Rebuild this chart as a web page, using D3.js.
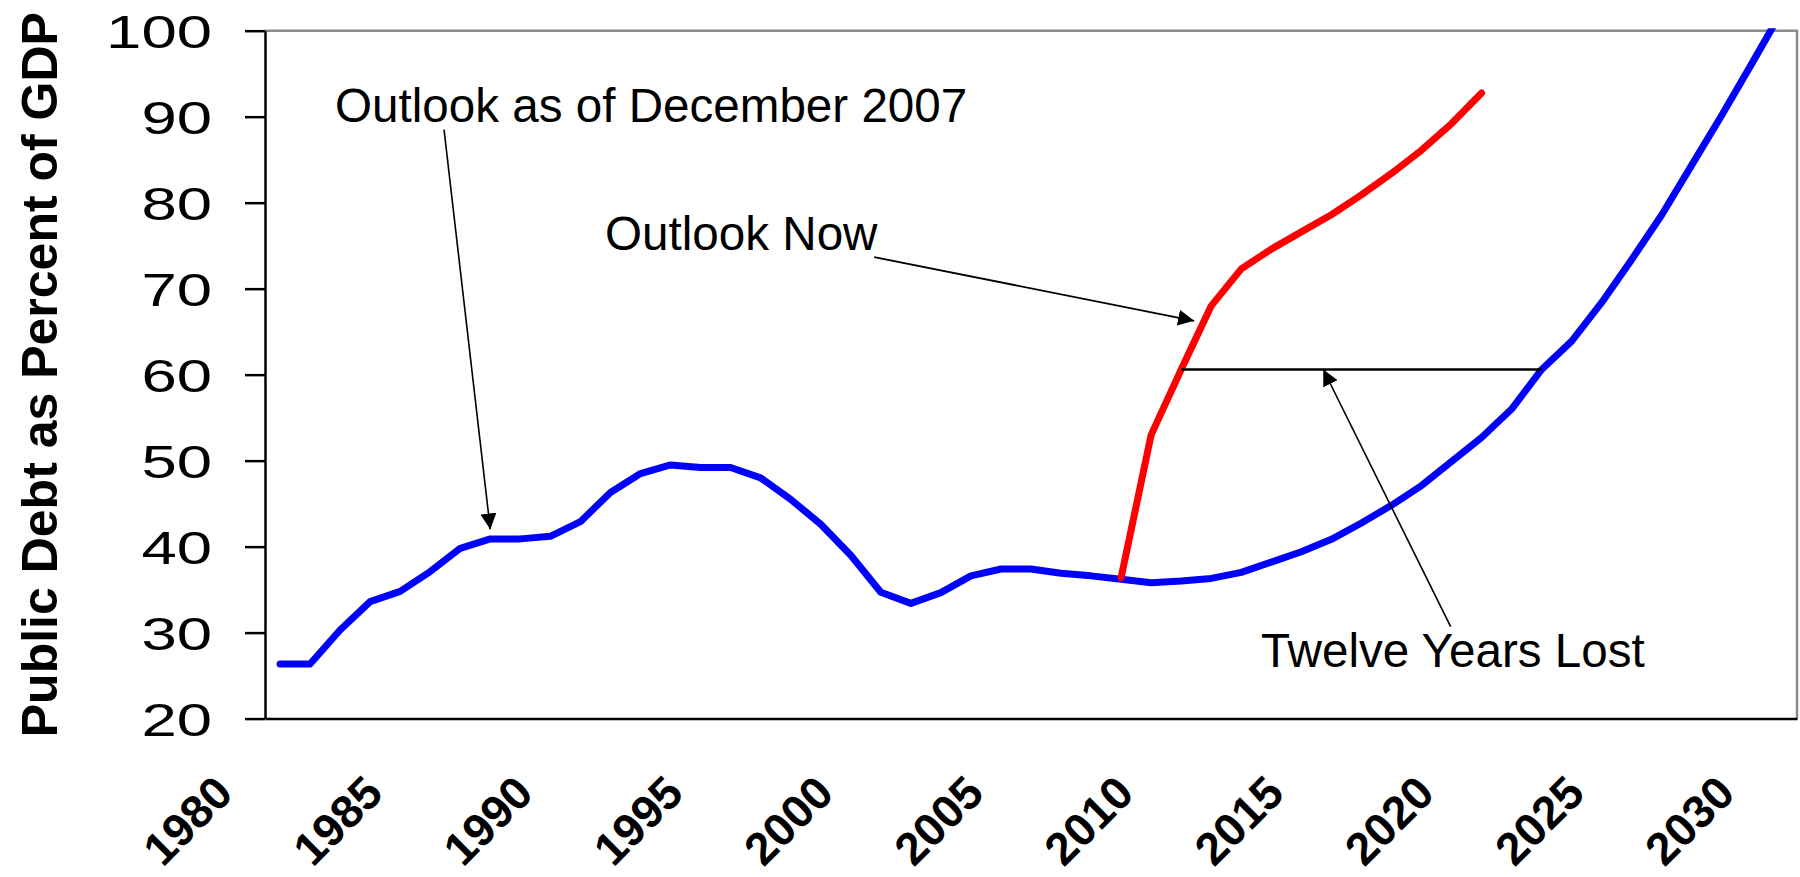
<!DOCTYPE html>
<html>
<head>
<meta charset="utf-8">
<script src="https://cdn.jsdelivr.net/npm/d3@7"></script>
<style>
  html, body { margin: 0; padding: 0; background: #fff; }
  svg { display: block; }
  text { font-family: "Liberation Sans", Arial, Helvetica, sans-serif; }
</style>
</head>
<body>
<svg id="chart" width="1800" height="877"></svg>
<script>
// Fiscal years on the category axis
const years = [1980, 1981, 1982, 1983, 1984, 1985, 1986, 1987, 1988, 1989,
               1990, 1991, 1992, 1993, 1994, 1995, 1996, 1997, 1998, 1999,
               2000, 2001, 2002, 2003, 2004, 2005, 2006, 2007, 2008, 2009,
               2010, 2011, 2012, 2013, 2014, 2015, 2016, 2017, 2018, 2019,
               2020, 2021, 2022, 2023, 2024, 2025, 2026, 2027, 2028, 2029, 2030];

// Debt held by the public, % of GDP — outlook as of December 2007 (history + projection)
const outlook2007 = [26.35, 26.35, 30.3, 33.6, 34.8, 37.1, 39.8, 40.9, 40.9, 41.2,
                     42.9, 46.3, 48.5, 49.5, 49.2, 49.2, 48.0, 45.5, 42.6, 39.0,
                     34.7, 33.4, 34.65, 36.6, 37.4, 37.4, 36.9, 36.6, 36.2, 35.8,
                     36.0, 36.3, 37.0, 38.2, 39.4, 40.85, 42.75, 44.8, 47.1, 49.9,
                     52.7, 56.0, 60.6, 63.9, 68.4, 73.4, 78.6, 84.4, 90.2, 96.2, 102.3];

// Current outlook, 2008 onward
const outlookNowYears = [2008, 2009, 2010, 2011, 2012, 2013, 2014, 2015, 2016, 2017, 2018, 2019, 2020];
const outlookNow = [36.4, 53.0, 60.6, 68.0, 72.3, 74.6, 76.6, 78.6, 80.9, 83.4, 86.1, 89.2, 92.75];

const yTicks = [20, 30, 40, 50, 60, 70, 80, 90, 100];
const xTickLabels = ["1980", "1985", "1990", "1995", "2000", "2005", "2010", "2015", "2020", "2025", "2030"];

// Year reached by the 2007 outlook at the level the current outlook hits in 2010
const lostFrom = 2010, lostTo = 2022;

const svg = d3.select("#chart");
const plotLeft = 265, plotRight = 1797, plotTop = 30.7, plotBottom = 718.6;

const x = d3.scaleBand().domain(years).range([plotLeft, plotRight]).padding(0);
const cx = yr => x(yr) + x.bandwidth() / 2;
// continuous year position for annotation anchors
const xc = d3.scaleLinear().domain([years[0], years[years.length - 1]])
  .range([cx(years[0]), cx(years[years.length - 1])]);
const y = d3.scaleLinear().domain([20, 100]).range([plotBottom, plotTop]);

const defs = svg.append("defs");
// clip series to the plot area
defs.append("clipPath").attr("id", "plotClip")
  .append("rect").attr("x", plotLeft).attr("y", plotTop - 2.5)
  .attr("width", plotRight - plotLeft).attr("height", plotBottom - plotTop + 2.5);
defs.append("marker").attr("id", "arrow")
  .attr("viewBox", "0 0 16 16").attr("refX", 16).attr("refY", 8)
  .attr("markerWidth", 16).attr("markerHeight", 16)
  .attr("markerUnits", "userSpaceOnUse").attr("orient", "auto")
  .append("path").attr("d", "M0,0L16,8L0,16Z").attr("fill", "#000");

// plot frame: grey top and right edges
svg.append("path")
  .attr("d", `M${plotLeft},${plotTop}H${plotRight}V${plotBottom}`)
  .attr("fill", "none").attr("stroke", "#8c8c8c").attr("stroke-width", 2.5);

// y axis
const yAxis = svg.append("g").attr("transform", `translate(${plotLeft},0)`)
  .call(d3.axisLeft(y).tickValues(yTicks).tickSize(20).tickSizeOuter(0));
yAxis.select(".domain").attr("stroke", "#000").attr("stroke-width", 2.5);
yAxis.selectAll(".tick line").attr("stroke", "#000").attr("stroke-width", 2.5);
yAxis.selectAll(".tick text")
  .attr("x", null).attr("dy", null)
  .attr("dominant-baseline", "central")
  .attr("text-anchor", "end")
  .attr("transform", "translate(-53,1) scale(1.38,1)")
  .style("font-size", "46px").attr("fill", "#000");

// x axis
const xAxis = svg.append("g").attr("transform", `translate(0,${plotBottom})`)
  .call(d3.axisBottom(x).tickValues(xTickLabels.map(Number)).tickSize(0).tickSizeOuter(0));
xAxis.select(".domain").attr("stroke", "#000").attr("stroke-width", 2.5);
xAxis.selectAll(".tick text")
  .attr("y", null).attr("dy", null)
  .attr("text-anchor", "end")
  .attr("transform", "translate(-45,77) rotate(-45)")
  .style("font-size", "46px").style("font-weight", "bold").attr("fill", "#000");

// y axis title
svg.append("text")
  .attr("transform", `translate(57,${(plotTop + plotBottom) / 2}) rotate(-90)`)
  .attr("text-anchor", "middle")
  .style("font-size", "50px").style("font-weight", "bold")
  .text("Public Debt as Percent of GDP");

// series
const line = d3.line().x(d => cx(d[0])).y(d => y(d[1]));
const series = svg.append("g").attr("clip-path", "url(#plotClip)");
series.append("path")
  .datum(years.map((yr, i) => [yr, outlook2007[i]]))
  .attr("d", line).attr("fill", "none").attr("stroke", "#0000ff")
  .attr("stroke-width", 7).attr("stroke-linejoin", "round").attr("stroke-linecap", "round");
series.append("path")
  .datum(outlookNowYears.map((yr, i) => [yr, outlookNow[i]]))
  .attr("d", line).attr("fill", "none").attr("stroke", "#ff0000")
  .attr("stroke-width", 7).attr("stroke-linejoin", "round").attr("stroke-linecap", "round");

// "twelve years lost" bar between the two outlooks at the same debt level
const lostLevel = outlookNow[outlookNowYears.indexOf(lostFrom)];
svg.append("line")
  .attr("x1", cx(lostFrom)).attr("x2", cx(lostTo))
  .attr("y1", y(lostLevel)).attr("y2", y(lostLevel))
  .attr("stroke", "#000").attr("stroke-width", 2.5);

// annotations: label text and leader arrows in data units (year, % of GDP)
const notes = [
  { text: "Outlook as of December 2007", tx: 1981.83, ty: 89.4, from: [1985.46, 88.5], to: [1987.0, 42.0], w: 1.6 },
  { text: "Outlook Now", tx: 1990.82, ty: 74.52, from: [1999.78, 73.67], to: [2010.43, 66.26], w: 1.9 },
  { text: "Twelve Years Lost", tx: 2012.66, ty: 26.0, from: [2018.97, 30.69], to: [2014.73, lostLevel], w: 1.6 }
];
notes.forEach(n => {
  svg.append("text").attr("x", xc(n.tx)).attr("y", y(n.ty))
    .style("font-size", "47.6px").attr("fill", "#000").text(n.text);
  svg.append("line")
    .attr("x1", xc(n.from[0])).attr("y1", y(n.from[1]))
    .attr("x2", xc(n.to[0])).attr("y2", y(n.to[1]))
    .attr("stroke", "#000").attr("stroke-width", n.w)
    .attr("marker-end", "url(#arrow)");
});
</script>
</body>
</html>
